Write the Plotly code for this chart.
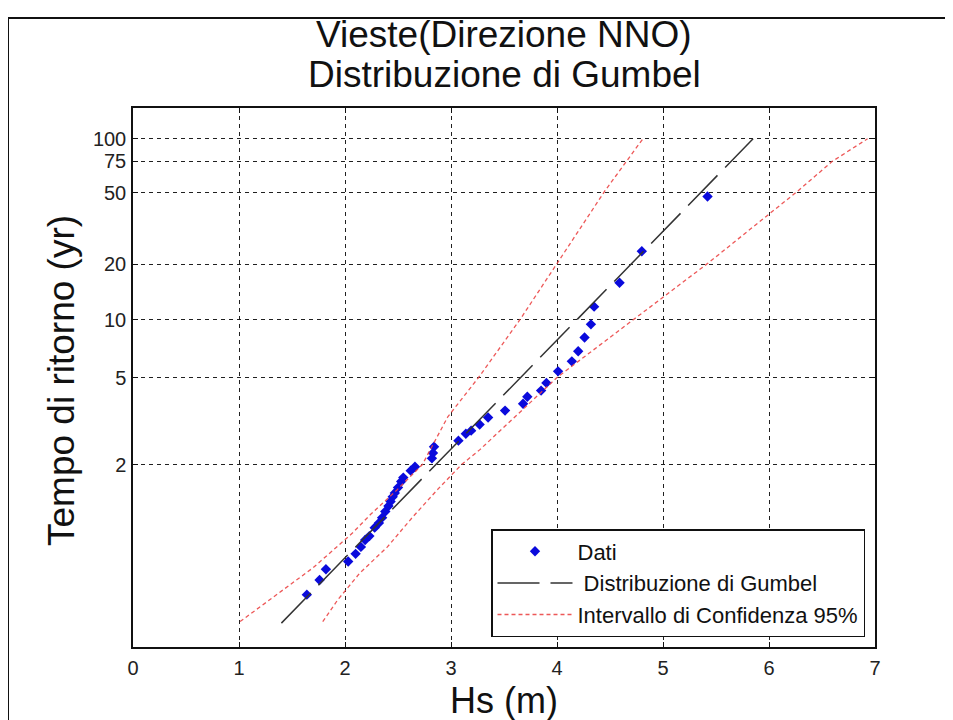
import numpy as np
import plotly.graph_objects as go

FONT = "Liberation Sans, Arial, sans-serif"
BLUE = "#0a0adc"
RED = "rgba(235, 70, 70, 0.9)"
GRID = "rgba(20, 20, 20, 0.95)"

# dati osservati: Hs (m) e variabile ridotta di Gumbel
dati_hs = [1.64, 1.76, 1.82, 2.03, 2.10, 2.15, 2.19, 2.23, 2.28, 2.32, 2.35,
           2.38, 2.41, 2.43, 2.45, 2.47, 2.50, 2.53, 2.55, 2.62, 2.66, 2.82,
           2.83, 2.84, 3.07, 3.14, 3.19, 3.27, 3.35, 3.51, 3.68, 3.72, 3.85,
           3.90, 4.01, 4.14, 4.20, 4.26, 4.32, 4.35, 4.59, 4.80, 5.42]
dati_y = [-1.32, -1.13, -0.99, -0.89, -0.79, -0.70, -0.61, -0.56, -0.45,
          -0.39, -0.32, -0.24, -0.17, -0.11, -0.05, 0.00, 0.07, 0.15, 0.20,
          0.29, 0.34, 0.45, 0.52, 0.60, 0.68, 0.77, 0.81, 0.89, 0.98, 1.07,
          1.16, 1.25, 1.33, 1.43, 1.58, 1.71, 1.84, 2.02, 2.19, 2.42, 2.73,
          3.14, 3.85]

# retta di Gumbel
gumbel_hs = [1.40, 5.85]
gumbel_y = [-1.69, 4.60]

# limiti di confidenza 95%
ci_sx_hs = [1.01, 1.45, 1.70, 1.89, 2.07, 2.24, 2.49, 2.73, 2.97, 3.26,
            3.65, 4.00, 4.45, 4.81]
ci_sx_y = [-1.67, -1.22, -0.97, -0.74, -0.52, -0.28, 0.04, 0.37, 0.99,
           1.50, 2.25, 2.98, 3.92, 4.60]
ci_dx_hs = [1.79, 1.93, 2.14, 2.40, 2.64, 2.87, 3.10, 3.27, 4.00, 4.72,
            5.42, 6.27, 6.60, 6.93]
ci_dx_y = [-1.67, -1.39, -1.04, -0.70, -0.31, 0.04, 0.37, 0.56, 1.50,
           2.25, 2.98, 3.92, 4.31, 4.60]

# tempi di ritorno sull'asse y
tr_ticks = [2, 5, 10, 20, 50, 75, 100]
x_ticks = [0, 1, 2, 3, 4, 5, 6, 7]


def reduced_variate(T):
    T = np.asarray(T, dtype=float)
    return -np.log(-np.log(1.0 - 1.0 / T))


fig = go.Figure()

fig.add_trace(go.Scatter(
    x=dati_hs, y=dati_y, mode="markers", name="Dati",
    marker={"symbol": "diamond", "size": 8, "color": BLUE},
))
fig.add_trace(go.Scatter(
    x=gumbel_hs, y=gumbel_y, mode="lines", name=" Distribuzione di Gumbel",
    line={"color": "#333333", "width": 1.5, "dash": "42px,11px"},
))
fig.add_trace(go.Scatter(
    x=ci_sx_hs, y=ci_sx_y, mode="lines", name="Intervallo di Confidenza 95%",
    legendgroup="ci",
    line={"color": RED, "width": 1.3, "dash": "4px,3px"},
))
fig.add_trace(go.Scatter(
    x=ci_dx_hs, y=ci_dx_y, mode="lines", showlegend=False,
    legendgroup="ci",
    line={"color": RED, "width": 1.3, "dash": "4px,3px"},
))

axis_common = dict(
    showline=True, linecolor="#111111", linewidth=1.5, mirror="ticks",
    ticks="inside", ticklen=5, tickcolor="#111111",
    showgrid=True, gridcolor=GRID, gridwidth=1.3, griddash="4px,4px",
    zeroline=False,
    tickfont={"size": 20, "color": "#222222", "family": FONT},
)

fig.update_xaxes(range=[0, 7], tickvals=x_ticks, ticklabelstandoff=2,
                 **axis_common)
fig.update_yaxes(range=[-2, 5], tickvals=list(reduced_variate(tr_ticks)),
                 ticktext=[str(t) for t in tr_ticks], ticklabelstandoff=1,
                 **axis_common)

# page body has an 8px margin: figure is 945x712, plot area spans
# page pixels x 133..875, y 108..647
annotations = [
    dict(text="Vieste(Direzione NNO)", x=0.5, y=(647 - 35) / 539,
         xref="paper", yref="paper", showarrow=False, yanchor="middle",
         font={"size": 37, "color": "#111111", "family": FONT}),
    dict(text="Distribuzione di Gumbel", x=0.5, y=(647 - 74) / 539,
         xref="paper", yref="paper", showarrow=False, yanchor="middle",
         font={"size": 37, "color": "#111111", "family": FONT}),
    dict(text="Hs (m)", x=0.5, y=(647 - 700) / 539,
         xref="paper", yref="paper", showarrow=False, yanchor="middle",
         font={"size": 36, "color": "#111111", "family": FONT}),
    dict(text="Tempo di ritorno (yr)", x=(61 - 133) / 742, y=(647 - 381) / 539,
         xref="paper", yref="paper", showarrow=False, textangle=-90,
         xanchor="center", yanchor="middle",
         font={"size": 37, "color": "#111111", "family": FONT}),
]

fig.update_layout(
    width=945,
    height=712,
    margin={"l": 125, "r": 78, "t": 100, "b": 73},
    paper_bgcolor="white",
    plot_bgcolor="white",
    font={"family": FONT, "color": "#111111"},
    annotations=annotations,
    showlegend=True,
    legend={
        "x": (491 - 133) / 742, "xanchor": "left",
        "y": (647 - 637) / 539, "yanchor": "bottom",
        "bgcolor": "white", "bordercolor": "#111111", "borderwidth": 1.5,
        "font": {"size": 22, "color": "#111111", "family": FONT},
        "itemwidth": 75, "traceorder": "normal",
    },
    shapes=[
        dict(type="rect", xref="paper", yref="paper",
             x0=(8 - 133) / 742, x1=(948 - 133) / 742,
             y0=-0.3, y1=(647 - 18) / 539,
             line={"color": "#111111", "width": 2}, layer="below"),
    ],
)

fig.write_html("out.html")
